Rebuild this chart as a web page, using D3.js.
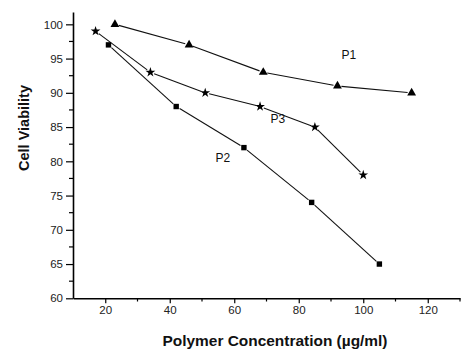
<!DOCTYPE html>
<html><head><meta charset="utf-8">
<script src="https://cdn.jsdelivr.net/npm/d3@7/dist/d3.min.js"></script>
<style>body{margin:0;background:#fff}svg{display:block}</style>
</head><body>
<svg id="c" width="474" height="361"></svg>
<script>
const p1x = [23, 46, 69, 92, 115];
const p1y = [100, 97, 93, 91, 90];
const p2x = [21, 42, 63, 84, 105];
const p2y = [97, 88, 82, 74, 65];
const p3x = [17, 34, 51, 68, 85, 100];
const p3y = [99, 93, 90, 88, 85, 78];
const xTicks = [20, 40, 60, 80, 100, 120];
const yTicks = [60, 65, 70, 75, 80, 85, 90, 95, 100];
const seriesNames = ["P1", "P2", "P3"];

const svg = d3.select("#c");
const x = d3.scaleLinear().domain([10, 130]).range([73, 460]);
const y = d3.scaleLinear().domain([60, 101.8]).range([298.3, 12]);

const font = "Arial, 'Liberation Sans', sans-serif";

// axes
const xAxis = d3.axisBottom(x).tickValues(xTicks).tickSize(5).tickSizeOuter(0).tickPadding(3);
const gx = svg.append("g").attr("transform", "translate(0,298.3)").call(xAxis);
const yAxis = d3.axisLeft(y).tickValues(yTicks).tickSize(7).tickSizeOuter(0).tickPadding(3);
const gy = svg.append("g").attr("transform", "translate(73,0)").call(yAxis);
[gx, gy].forEach(g => {
  g.select(".domain").attr("stroke", "#000").attr("stroke-width", 1.6);
  g.selectAll(".tick line").attr("stroke", "#000").attr("stroke-width", 1.2);
  g.selectAll(".tick text").attr("font-family", font).attr("font-size", 11.5).attr("fill", "#222");
});
// minor ticks
const xMinor = d3.range(30, 131, 20);
svg.append("g").selectAll("line").data(xMinor).join("line")
  .attr("x1", d => x(d)).attr("x2", d => x(d)).attr("y1", 298.3).attr("y2", 301.5)
  .attr("stroke", "#000").attr("stroke-width", 1.2);
const yMinor = d3.range(62.5, 101, 5);
svg.append("g").selectAll("line").data(yMinor).join("line")
  .attr("x1", 73).attr("x2", 69).attr("y1", d => y(d)).attr("y2", d => y(d))
  .attr("stroke", "#000").attr("stroke-width", 1.2);

// titles
svg.append("text").attr("x", 275).attr("y", 345.5).attr("text-anchor", "middle")
  .attr("font-family", font).attr("font-weight", "bold").attr("font-size", 14)
  .attr("textLength", 225).attr("lengthAdjust", "spacingAndGlyphs")
  .attr("fill", "#111").text("Polymer Concentration (µg/ml)");
svg.append("text").attr("transform", "translate(28.5,128) rotate(-90)").attr("text-anchor", "middle")
  .attr("font-family", font).attr("font-weight", "bold").attr("font-size", 14)
  .attr("textLength", 86).attr("lengthAdjust", "spacingAndGlyphs")
  .attr("fill", "#111").text("Cell Viability");

// lines with gaps near symbols
const gap = 4;
function drawSeries(xs, ys) {
  const pts = xs.map((v, i) => [x(v), y(ys[i])]);
  const segs = [];
  for (let i = 0; i < pts.length - 1; i++) {
    const [ax, ay] = pts[i], [bx, by] = pts[i + 1];
    const L = Math.hypot(bx - ax, by - ay);
    const ux = (bx - ax) / L, uy = (by - ay) / L;
    segs.push([ax + ux * gap, ay + uy * gap, bx - ux * gap, by - uy * gap]);
  }
  svg.append("g").selectAll("line").data(segs).join("line")
    .attr("x1", d => d[0]).attr("y1", d => d[1]).attr("x2", d => d[2]).attr("y2", d => d[3])
    .attr("stroke", "#111").attr("stroke-width", 1.1);
  return pts;
}
const pts1 = drawSeries(p1x, p1y);
const pts2 = drawSeries(p2x, p2y);
const pts3 = drawSeries(p3x, p3y);

svg.append("g").selectAll("path").data(pts1).join("path")
  .attr("d", d3.symbol(d3.symbolTriangle, 34)).attr("transform", d => `translate(${d[0]},${d[1]})`).attr("fill", "#000");
svg.append("g").selectAll("rect").data(pts2).join("rect")
  .attr("x", d => d[0] - 2.7).attr("y", d => d[1] - 2.7).attr("width", 5.4).attr("height", 5.4).attr("fill", "#000");
svg.append("g").selectAll("path").data(pts3).join("path")
  .attr("d", d3.symbol(d3.symbolStar, 30)).attr("transform", d => `translate(${d[0]},${d[1]})`).attr("fill", "#000");

// series labels
const labelPos = [[95.5, 95.5], [56.5, 80.5], [73.5, 86.2]];
svg.append("g").selectAll("text").data(seriesNames).join("text")
  .attr("x", (d, i) => x(labelPos[i][0])).attr("y", (d, i) => y(labelPos[i][1]))
  .attr("text-anchor", "middle").attr("dominant-baseline", "central")
  .attr("font-family", font).attr("font-size", 12).attr("fill", "#111").text(d => d);
</script>
</body></html>
